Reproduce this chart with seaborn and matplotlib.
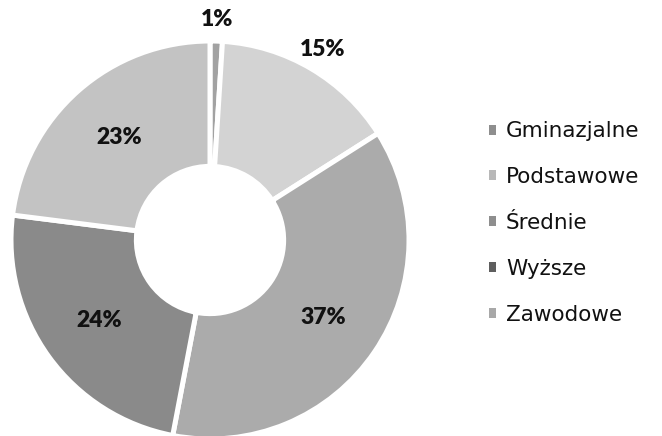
import matplotlib
matplotlib.use("Agg")
import matplotlib.pyplot as plt
from matplotlib.patches import Patch
import numpy as np
import seaborn as sns

categories = ["Gminazjalne", "Podstawowe", "Średnie", "Wyższe", "Zawodowe"]
shares = [1, 15, 37, 24, 23]
slice_colors = ["#a2a2a2", "#d3d3d3", "#ababab", "#8a8a8a", "#c3c3c3"]
legend_colors = ["#8e8e8e", "#b8b8b8", "#8e8e8e", "#5e5e5e", "#a8a8a8"]

sns.set_theme(style="white")
plt.rcParams["font.family"] = ["Lato", "DejaVu Sans"]

fig = plt.figure(figsize=(6.62, 4.36), dpi=100)
W, H = 662, 436
cx, cy, R = 210, 436 - 240, 199
ax = fig.add_axes([(cx - R) / W, (cy - R) / H, 2 * R / W, 2 * R / H])

wedges, _ = ax.pie(
    shares,
    colors=slice_colors,
    startangle=90,
    counterclock=False,
    radius=1.0,
    wedgeprops=dict(width=0.63, edgecolor="white", linewidth=3.6),
)
ax.set_xlim(-1, 1)
ax.set_ylim(-1, 1)
ax.set_aspect("equal")
ax.axis("off")

# percentage labels: small slices outside the ring, large ones inside
for w, v in zip(wedges, shares):
    ang = np.deg2rad((w.theta1 + w.theta2) / 2)
    r = 1.11 if v <= 15 else 0.69
    ax.text(r * np.cos(ang), r * np.sin(ang), f"{v}%", ha="center", va="center",
            fontsize=16.5, fontweight="heavy", color="#111111", clip_on=False)

handles = [Patch(facecolor=c, edgecolor="none") for c in legend_colors]
fig.legend(handles, categories, loc="center left", bbox_to_anchor=(489 / W, 1 - 223 / H),
           frameon=False, handlelength=0.33, handleheight=0.33,
           handletextpad=0.45, labelspacing=1.2, borderaxespad=0, borderpad=0,
           labelcolor="#111111",
           prop=dict(family="DejaVu Sans", size=15.5))

fig.savefig("out.png", dpi=100, facecolor="white")
